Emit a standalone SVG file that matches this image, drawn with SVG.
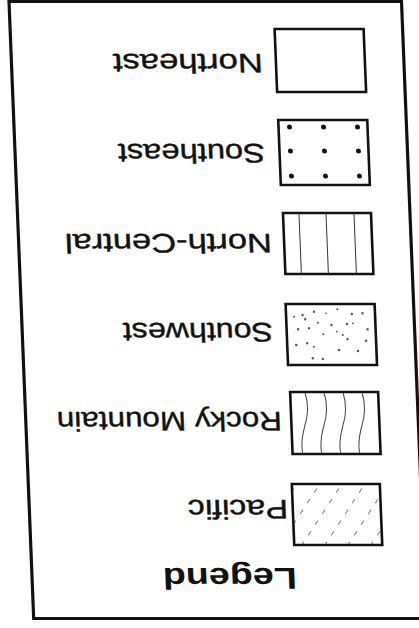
<svg xmlns="http://www.w3.org/2000/svg" width="419" height="628" viewBox="0 0 419 628">
<style>
.frame{fill:none;stroke:#111;stroke-width:3.2}
.box{fill:#fff;stroke:#111;stroke-width:2.6}
.lbl{font-family:"Liberation Sans",Arial,Helvetica,sans-serif;font-size:27px;fill:#111;stroke:#111;stroke-width:0.4}
.ttl{font-family:"Liberation Sans",Arial,Helvetica,sans-serif;font-size:30px;font-weight:bold;fill:#111}
.vl{stroke:#333;stroke-width:1;fill:none}
.wv{stroke:#444;stroke-width:1;fill:none}
.dg{stroke:#888;stroke-width:1.1;stroke-dasharray:5 8;fill:none}
.sd{fill:#111}
.st{fill:#555}
</style>
<defs>
<clipPath id="pacClip"><rect x="286" y="485" width="87" height="59"/></clipPath>
</defs>
<rect x="0" y="0" width="419" height="628" fill="#fff"/>
<g transform="matrix(1 0 0.04 1 -12.56 0)">
<rect id="frame" class="frame" x="21.5" y="1.5" width="392.5" height="617"/>
<g id="northeast">
<rect class="box" x="286" y="29" width="89" height="63"/>
<text class="lbl" transform="translate(273,54) rotate(180)" textLength="150" lengthAdjust="spacingAndGlyphs">Northeast</text>
</g>
<g id="southeast">
<rect class="box" x="286" y="120" width="89" height="65"/>
<circle class="sd" cx="297" cy="127" r="2.5"/><circle class="sd" cx="331" cy="127" r="2.5"/><circle class="sd" cx="365" cy="127" r="2.5"/>
<circle class="sd" cx="297" cy="151" r="2.5"/><circle class="sd" cx="331" cy="151" r="2.5"/><circle class="sd" cx="365" cy="151" r="2.5"/>
<circle class="sd" cx="297" cy="176" r="2.5"/><circle class="sd" cx="331" cy="176" r="2.5"/><circle class="sd" cx="365" cy="176" r="2.5"/>
<text class="lbl" transform="translate(271.4,143.5) rotate(180)" textLength="147" lengthAdjust="spacingAndGlyphs">Southeast</text>
</g>
<g id="north-central">
<rect class="box" x="287" y="213" width="88" height="61"/>
<line class="vl" x1="303" y1="213" x2="303" y2="274"/>
<line class="vl" x1="330" y1="213" x2="330" y2="274"/>
<line class="vl" x1="358" y1="213" x2="358" y2="274"/>
<text class="lbl" transform="translate(274.8,233.5) rotate(180)" textLength="207" lengthAdjust="spacingAndGlyphs">North-Central</text>
</g>
<g id="southwest">
<rect class="box" x="286" y="304" width="89" height="61"/>
<g class="st">
<circle cx="302.5" cy="315" r="1.2"/><circle cx="314" cy="311.7" r="1.2"/><circle cx="337.5" cy="309.3" r="1"/><circle cx="351.8" cy="314" r="1.2"/><circle cx="362.5" cy="313.3" r="1.2"/>
<circle cx="305" cy="319.3" r="1.2"/><circle cx="317.5" cy="322.7" r="1"/><circle cx="331" cy="325" r="1.2"/><circle cx="346.5" cy="324" r="1.2"/><circle cx="367" cy="329.3" r="1.2"/>
<circle cx="297.5" cy="329.3" r="1.2"/><circle cx="308.5" cy="328.3" r="1.2"/><circle cx="322.5" cy="334.3" r="1"/><circle cx="342" cy="335" r="1"/><circle cx="346.5" cy="339.3" r="1.2"/>
<circle cx="365" cy="340.7" r="1.3"/><circle cx="295" cy="345" r="1.2"/><circle cx="306" cy="343.3" r="1.2"/><circle cx="312.5" cy="346.7" r="1"/><circle cx="337.5" cy="350" r="1.3"/>
<circle cx="356.5" cy="351" r="1.3"/><circle cx="311" cy="358.3" r="1.2"/><circle cx="321" cy="359" r="1.2"/><circle cx="326" cy="313.3" r="0.9"/><circle cx="352.5" cy="323.3" r="0.9"/>
<circle cx="294" cy="316.7" r="1"/><circle cx="336" cy="331.7" r="0.9"/>
</g>
<text class="lbl" transform="translate(272.2,323) rotate(180)" textLength="150" lengthAdjust="spacingAndGlyphs">Southwest</text>
</g>
<g id="rocky-mountain">
<rect class="box" x="287" y="392" width="88" height="62"/>
<path class="wv" d="M302,393 C305,404 304,416 300,427 C297,437 296,446 297,453"/>
<path class="wv" d="M321,393 C324,404 323,416 319,427 C316,437 315,446 316,453"/>
<path class="wv" d="M340,393 C343,404 342,416 338,427 C335,437 334,446 335,453"/>
<path class="wv" d="M359,393 C362,404 361,416 357,427 C354,437 353,446 354,453"/>
<text class="lbl" transform="translate(277.7,412) rotate(180)" textLength="225" lengthAdjust="spacingAndGlyphs">Rocky Mountain</text>
</g>
<g id="pacific">
<g clip-path="url(#pacClip)">
<line class="dg" x1="247" y1="546" x2="290" y2="484"/>
<line class="dg" x1="270" y1="546" x2="313" y2="484"/>
<line class="dg" x1="292" y1="546" x2="335" y2="484"/>
<line class="dg" x1="315" y1="546" x2="358" y2="484"/>
<line class="dg" x1="338" y1="546" x2="381" y2="484"/>
<line class="dg" x1="361" y1="546" x2="404" y2="484"/>
</g>
<rect class="box" x="285" y="484" width="88" height="61" style="fill:none"/>
<text class="lbl" transform="translate(280.2,500) rotate(180)" textLength="100" lengthAdjust="spacingAndGlyphs">Pacific</text>
</g>
<g id="legend-title">
<text class="ttl" transform="translate(286.4,568) rotate(180)" textLength="134" lengthAdjust="spacingAndGlyphs">Legend</text>
</g>
</g>
<g id="connectors"/>
</svg>
